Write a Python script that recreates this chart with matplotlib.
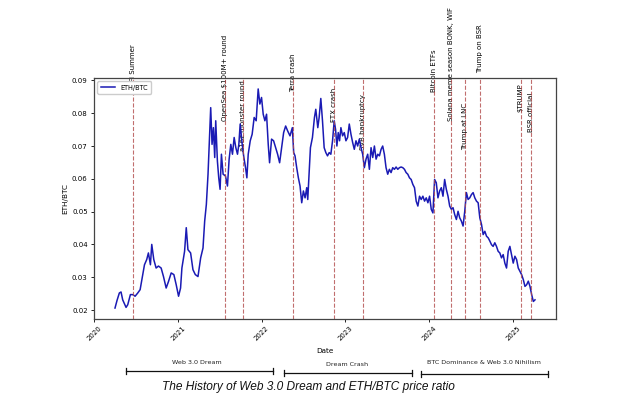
import matplotlib
matplotlib.use("Agg")
import matplotlib.pyplot as plt
import pandas as pd
import numpy as np
from matplotlib.lines import Line2D

# ---- data (decimal years, ETH/BTC ratio) ----
years = [
 2020.248, 2020.272, 2020.300, 2020.320, 2020.340, 2020.380, 2020.400, 2020.432, 2020.460, 2020.488,
 2020.520, 2020.548, 2020.572, 2020.600, 2020.627, 2020.647, 2020.671, 2020.687, 2020.711, 2020.739,
 2020.767, 2020.799, 2020.827, 2020.859, 2020.887, 2020.919, 2020.951, 2020.979, 2021.007, 2021.031,
 2021.047, 2021.079, 2021.099, 2021.119, 2021.151, 2021.179, 2021.207, 2021.239, 2021.271, 2021.299,
 2021.319, 2021.339, 2021.359, 2021.379, 2021.391, 2021.407, 2021.423, 2021.439, 2021.451, 2021.471,
 2021.487, 2021.503, 2021.519, 2021.539, 2021.567, 2021.591, 2021.611, 2021.631, 2021.651, 2021.671,
 2021.691, 2021.711, 2021.727, 2021.743, 2021.767, 2021.787, 2021.807, 2021.823, 2021.839, 2021.863,
 2021.886, 2021.910, 2021.934, 2021.958, 2021.978, 2021.998, 2022.018, 2022.038, 2022.058, 2022.078,
 2022.094, 2022.118, 2022.142, 2022.166, 2022.190, 2022.214, 2022.238, 2022.262, 2022.286, 2022.310,
 2022.338, 2022.366, 2022.382, 2022.398, 2022.418, 2022.438, 2022.458, 2022.478, 2022.498, 2022.518,
 2022.538, 2022.550, 2022.566, 2022.582, 2022.606, 2022.630, 2022.646, 2022.670, 2022.686, 2022.706,
 2022.726, 2022.746, 2022.766, 2022.786, 2022.806, 2022.826, 2022.846, 2022.866, 2022.882, 2022.898,
 2022.914, 2022.930, 2022.946, 2022.966, 2022.986, 2023.006, 2023.026, 2023.046, 2023.066, 2023.086,
 2023.106, 2023.126, 2023.146, 2023.166, 2023.186, 2023.206, 2023.226, 2023.246, 2023.266, 2023.286,
 2023.306, 2023.326, 2023.346, 2023.366, 2023.386, 2023.406, 2023.426, 2023.445, 2023.465, 2023.485,
 2023.505, 2023.525, 2023.545, 2023.565, 2023.585, 2023.605, 2023.625, 2023.645, 2023.665, 2023.685,
 2023.705, 2023.725, 2023.745, 2023.765, 2023.785, 2023.805, 2023.825, 2023.845, 2023.865, 2023.885,
 2023.905, 2023.925, 2023.945, 2023.965, 2023.985, 2024.005, 2024.025, 2024.045, 2024.065, 2024.085,
 2024.105, 2024.125, 2024.145, 2024.165, 2024.185, 2024.205, 2024.225, 2024.245, 2024.265, 2024.285,
 2024.305, 2024.325, 2024.345, 2024.365, 2024.385, 2024.405, 2024.425, 2024.445, 2024.465, 2024.485,
 2024.505, 2024.525, 2024.545, 2024.565, 2024.585, 2024.605, 2024.625, 2024.645, 2024.665, 2024.685,
 2024.705, 2024.725, 2024.745, 2024.764, 2024.784, 2024.804, 2024.824, 2024.844, 2024.864, 2024.884,
 2024.904, 2024.924, 2024.944, 2024.964, 2024.984, 2025.004, 2025.024, 2025.044, 2025.064, 2025.084,
 2025.104, 2025.124, 2025.144, 2025.164, 2025.184, 2025.204, 2025.224, 2025.244, 2025.264,
]
eth_btc = [
 0.0206, 0.0229, 0.0252, 0.0255, 0.0231, 0.0208, 0.0216, 0.0247, 0.0247, 0.0242,
 0.0252, 0.0262, 0.0297, 0.0338, 0.0354, 0.0374, 0.0338, 0.0400, 0.0354, 0.0328,
 0.0334, 0.0328, 0.0302, 0.0267, 0.0287, 0.0313, 0.0308, 0.0277, 0.0242, 0.0267,
 0.0328, 0.0379, 0.0451, 0.0384, 0.0374, 0.0323, 0.0308, 0.0302, 0.0359, 0.0389,
 0.0471, 0.0522, 0.0614, 0.0746, 0.0817, 0.0705, 0.0756, 0.0665, 0.0777, 0.0654,
 0.0603, 0.0568, 0.0675, 0.0614, 0.0609, 0.0578, 0.0660, 0.0705, 0.0675, 0.0726,
 0.0695, 0.0675, 0.0705, 0.0767, 0.0705, 0.0665, 0.0634, 0.0603, 0.0675, 0.0716,
 0.0736, 0.0787, 0.0777, 0.0874, 0.0828, 0.0848, 0.0797, 0.0777, 0.0797, 0.0705,
 0.0649, 0.0721, 0.0716, 0.0695, 0.0675, 0.0649, 0.0695, 0.0741, 0.0761, 0.0746,
 0.0731, 0.0756, 0.0680, 0.0670, 0.0634, 0.0603, 0.0578, 0.0527, 0.0563, 0.0542,
 0.0573, 0.0537, 0.0614, 0.0695, 0.0726, 0.0787, 0.0812, 0.0756, 0.0787, 0.0845,
 0.0777, 0.0695, 0.0680, 0.0670, 0.0680, 0.0675, 0.0716, 0.0777, 0.0751, 0.0700,
 0.0741, 0.0716, 0.0756, 0.0731, 0.0741, 0.0716, 0.0726, 0.0767, 0.0736, 0.0711,
 0.0690, 0.0716, 0.0700, 0.0721, 0.0695, 0.0675, 0.0634, 0.0660, 0.0675, 0.0629,
 0.0695, 0.0665, 0.0700, 0.0660, 0.0675, 0.0670, 0.0690, 0.0700, 0.0675, 0.0634,
 0.0614, 0.0629, 0.0619, 0.0634, 0.0629, 0.0636, 0.0629, 0.0634, 0.0636, 0.0634,
 0.0629, 0.0619, 0.0614, 0.0603, 0.0598, 0.0583, 0.0573, 0.0532, 0.0517, 0.0547,
 0.0537, 0.0547, 0.0532, 0.0542, 0.0527, 0.0547, 0.0507, 0.0496, 0.0598, 0.0588,
 0.0542, 0.0563, 0.0573, 0.0547, 0.0598, 0.0568, 0.0547, 0.0517, 0.0507, 0.0512,
 0.0491, 0.0476, 0.0501, 0.0481, 0.0471, 0.0456, 0.0501, 0.0558, 0.0537, 0.0542,
 0.0552, 0.0558, 0.0542, 0.0532, 0.0527, 0.0481, 0.0461, 0.0430, 0.0440, 0.0425,
 0.0420, 0.0410, 0.0399, 0.0394, 0.0405, 0.0394, 0.0379, 0.0374, 0.0359, 0.0369,
 0.0343, 0.0328, 0.0379, 0.0394, 0.0369, 0.0343, 0.0364, 0.0354, 0.0328, 0.0318,
 0.0308, 0.0293, 0.0272, 0.0277, 0.0288, 0.0272, 0.0247, 0.0226, 0.0231,
]

event_dates = ['2020-06-20', '2021-07-26', '2021-10-09', '2022-05-18', '2022-11-14', '2023-03-18',
               '2024-01-21', '2024-04-06', '2024-06-07', '2024-08-09', '2025-02-03', '2025-03-20']
event_labels = ['DeFi Summer', 'OpenSea $100M+ round', 'a16z monster round', 'Terra crash',
                'FTX crash', 'SVB bankruptcy', 'Bitcoin ETFs', 'Solana meme season BONK, WIF',
                'Trump at LNC', 'Trump on BSR', '$TRUMP', 'BSR official']
label_y = [0.0868, 0.0775, 0.0686, 0.0866, 0.0773, 0.0689, 0.0864, 0.0775, 0.0689, 0.0924, 0.0805, 0.0744]

eras = ['Web 3.0 Dream', 'Dream Crash', 'BTC Dominance & Web 3.0 Nihilism']
title = 'The History of Web 3.0 Dream and ETH/BTC price ratio'

# ---- figure ----
W, H = 628, 398
fig = plt.figure(figsize=(W / 100, H / 100), dpi=100)
ax = fig.add_axes([94 / W, 1 - 319 / H, (556 - 94) / W, (319 - 78) / H])

def yr_to_date(y):
    return pd.Timestamp('2020-01-01') + pd.to_timedelta((y - 2020) * 365.25, unit='D')

dates = [yr_to_date(y) for y in years]
ax.plot(dates, eth_btc, color='#1a1ab4', lw=1.1, label='ETH/BTC', zorder=2)

for d, lab, ly in zip(event_dates, event_labels, label_y):
    dt = pd.Timestamp(d)
    ax.axvline(dt, color='#b24a4a', linestyle='--', lw=0.8, alpha=0.8, zorder=2.5)
    ax.text(dt, ly, lab, rotation=90, ha='center', va='bottom', fontsize=5.0,
            zorder=1, clip_on=False)

ax.set_xlabel('Date', fontsize=5.2, labelpad=4)
ax.set_ylabel('ETH/BTC', fontsize=5.2, labelpad=3)
ax.tick_params(axis='both', labelsize=5.0, length=2.5, width=0.6, pad=2)
ax.tick_params(axis='x', labelrotation=45)
for s in ax.spines.values():
    s.set_color('#444444')
    s.set_linewidth(0.9)
leg = ax.legend(loc='upper left', fontsize=4.7, handlelength=2.2, borderpad=0.5,
                framealpha=1.0, edgecolor='#cccccc', fancybox=True)
leg.set_zorder(5)

# ---- era brackets (figure pixel coords) ----
era_label_xy = [(197, 363), (347, 364), (484, 363)]
era_spans = [(126, 273, 371), (284, 412, 373), (421, 548, 374)]
for name, (lx, lyp), (x0, x1, yb) in zip(eras, era_label_xy, era_spans):
    fig.text(lx / W, 1 - lyp / H, name, ha='center', va='center', fontsize=4.6,
             color='#222222')
    fig.add_artist(Line2D([x0 / W, x1 / W], [1 - yb / H, 1 - yb / H],
                          transform=fig.transFigure, color='#111111', lw=0.9))
    for xx in (x0, x1):
        fig.add_artist(Line2D([xx / W, xx / W], [1 - (yb - 3) / H, 1 - (yb + 3) / H],
                              transform=fig.transFigure, color='#111111', lw=0.9))

fig.text(308 / W, 1 - 387 / H, title, ha='center', va='center', fontsize=8.6,
         style='italic', family='Liberation Sans', color='#111111')

fig.savefig('out.png', dpi=100)
